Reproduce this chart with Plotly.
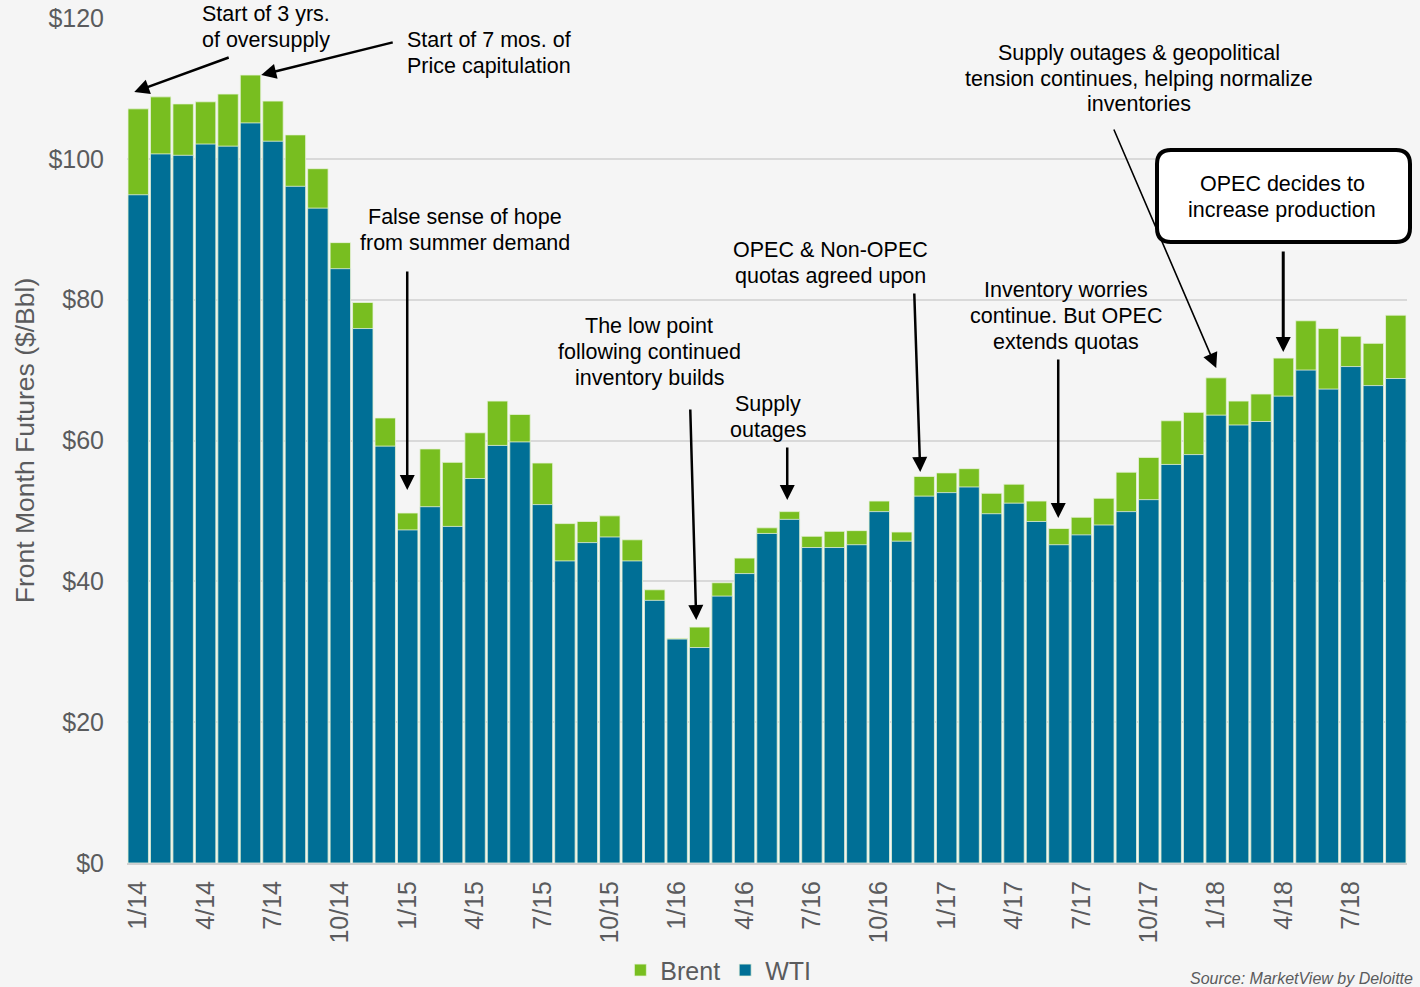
import plotly.graph_objects as go

months = ["1/14","2/14","3/14","4/14","5/14","6/14","7/14","8/14","9/14","10/14","11/14","12/14",
          "1/15","2/15","3/15","4/15","5/15","6/15","7/15","8/15","9/15","10/15","11/15","12/15",
          "1/16","2/16","3/16","4/16","5/16","6/16","7/16","8/16","9/16","10/16","11/16","12/16",
          "1/17","2/17","3/17","4/17","5/17","6/17","7/17","8/17","9/17","10/17","11/17","12/17",
          "1/18","2/18","3/18","4/18","5/18","6/18","7/18","8/18","9/18"]

brent = [107.1,108.8,107.8,108.1,109.2,111.9,108.2,103.4,98.6,88.1,79.6,63.2,
         49.7,58.8,56.9,61.1,65.6,63.7,56.8,48.2,48.5,49.3,45.9,38.8,
         31.9,33.5,39.8,43.3,47.6,49.9,46.4,47.1,47.2,51.4,47.0,54.9,
         55.4,56.0,52.5,53.8,51.4,47.5,49.1,51.8,55.5,57.6,62.8,64.0,
         68.9,65.6,66.6,71.7,77.0,75.9,74.8,73.8,77.8]

wti = [94.9,100.7,100.5,102.1,101.8,105.1,102.5,96.1,93.0,84.4,75.9,59.2,
       47.3,50.6,47.8,54.6,59.3,59.8,50.9,42.9,45.5,46.3,42.9,37.3,
       31.8,30.6,37.9,41.1,46.8,48.8,44.8,44.8,45.2,49.9,45.7,52.1,
       52.6,53.4,49.6,51.1,48.5,45.2,46.6,48.0,49.9,51.6,56.6,58.0,
       63.6,62.2,62.7,66.3,70.0,67.3,70.5,67.8,68.8]

tick_labels = ["1/14","4/14","7/14","10/14","1/15","4/15","7/15","10/15","1/16","4/16",
               "7/16","10/16","1/17","4/17","7/17","10/17","1/18","4/18","7/18"]
y_ticks = [0, 20, 40, 60, 80, 100, 120]
y_tick_labels = ["$0", "$20", "$40", "$60", "$80", "$100", "$120"]

GREEN = "#78BE20"
BLUE = "#006F96"
GREY = "#5a5b5d"
FONT = "Liberation Sans, Arial, sans-serif"

# layout helpers (plot area: x 127..1407 px, y 18..863 px)
def px_x(px):
    return (px - 137) / 22.456

def px_y(py):
    return (863 - py) / 7.0417

def paper_x(px):
    return (px - 127) / 1280

def paper_y(py):
    return (863 - py) / 845

fig = go.Figure()
fig.add_trace(go.Bar(x=months, y=brent, name="Brent",
                     marker=dict(color=GREEN, line=dict(color="#e8f2dc", width=0.8))))
fig.add_trace(go.Bar(x=months, y=wti, name="WTI",
                     marker=dict(color=BLUE, line=dict(color="#e8f2dc", width=0.8))))

ann_font = dict(family=FONT, size=21.5, color="black")
# (anchor x px, first-line y px, line spacing px, lines, anchor)
text_blocks = [
    (266, 14, 26, ["Start of 3 yrs.", "of oversupply"], "center"),
    (405, 40, 26, ["Start of 7 mos. of", "Price capitulation"], "left"),
    (465, 217, 25.5, ["False sense of hope", "from summer demand"], "center"),
    (649, 326, 26, ["The low point", "following continued", "inventory builds"], "center"),
    (768, 404, 26, ["Supply", "outages"], "center"),
    (830, 250, 26.5, ["OPEC & Non-OPEC", "quotas agreed upon"], "center"),
    (1066, 290, 26, ["Inventory worries", "continue. But OPEC", "extends quotas"], "center"),
    (1139, 53, 25.5, ["Supply outages & geopolitical", "tension continues, helping normalize", "inventories"], "center"),
    (1282, 184, 26, ["OPEC decides to", "increase production"], "center"),
]
annotations = []
for ax_px, y0_px, sp, lines, anc in text_blocks:
    for i, line in enumerate(lines):
        annotations.append(dict(x=paper_x(ax_px), y=paper_y(y0_px + i * sp), xref="paper", yref="paper",
                                text=line, showarrow=False, font=ann_font, xanchor=anc, yanchor="middle"))

# arrows: tip (x px, y px), tail (x px, y px), line width
arrows = [
    ((133, 92), (229, 57), 2.5),
    ((260, 75), (393, 42), 2.5),
    ((406, 490), (406, 270), 2.5),
    ((695, 620), (689, 408), 2.5),
    ((786, 500), (786, 446), 2.5),
    ((919, 472), (913, 292), 2.5),
    ((1057, 518), (1057, 358), 2.5),
    ((1215, 368), (1112, 128), 1.6),
    ((1282, 352), (1282, 250), 3.0),
]
for (tx, ty), (sx, sy), w in arrows:
    annotations.append(dict(x=px_x(tx), y=px_y(ty), xref="x", yref="y",
                            ax=px_x(sx), ay=px_y(sy), axref="x", ayref="y",
                            text="", showarrow=True, arrowhead=2, arrowwidth=w, arrowsize=3.0 / w,
                            arrowcolor="black", standoff=0))

annotations.append(dict(x=1.0, y=-0.137, xref="paper", yref="paper",
                        text="<i>Source: MarketView by Deloitte</i>",
                        showarrow=False, font=dict(family=FONT, size=16, color=GREY),
                        xanchor="right", yanchor="middle", xshift=8))

# rounded box around "OPEC decides..."
x0, x1 = paper_x(1157), paper_x(1410)
y0, y1 = paper_y(242), paper_y(150)
rx, ry = 14 / 1280, 14 / 845
path = (f"M{x0+rx},{y1} L{x1-rx},{y1} Q{x1},{y1} {x1},{y1-ry} L{x1},{y0+ry} Q{x1},{y0} {x1-rx},{y0} "
        f"L{x0+rx},{y0} Q{x0},{y0} {x0},{y0+ry} L{x0},{y1-ry} Q{x0},{y1} {x0+rx},{y1} Z")

fig.update_layout(
    width=1420, height=987,
    margin=dict(l=127, r=13, t=18, b=124, autoexpand=False),
    paper_bgcolor="#f5f5f5", plot_bgcolor="#f5f5f5",
    barmode="overlay", bargap=0.09,
    font=dict(family=FONT, color=GREY, size=25),
    showlegend=True,
    legend=dict(orientation="h", x=0.462, y=-0.127, xanchor="center", yanchor="middle",
                font=dict(size=25, color=GREY), bgcolor="rgba(0,0,0,0)", traceorder="normal",
                itemwidth=30),
    annotations=annotations,
    shapes=[dict(type="path", path=path, xref="paper", yref="paper", fillcolor="white",
                 line=dict(color="black", width=4), layer="above")],
)
fig.update_xaxes(type="category", tickmode="array", tickvals=tick_labels, ticktext=tick_labels,
                 tickangle=-90, tickfont=dict(size=25, color=GREY), showgrid=False,
                 showline=True, linecolor="#d0d0d0", linewidth=2, ticks="", ticklabelstandoff=6,
                 automargin=False, range=[-0.5, 56.5])
fig.update_yaxes(range=[0, 120], tickmode="array", tickvals=y_ticks, ticktext=y_tick_labels,
                 tickfont=dict(size=25, color=GREY), showgrid=True, gridcolor="#d9d9d9", gridwidth=2,
                 zeroline=False, ticks="", ticklabelstandoff=22, automargin=False,
                 title=dict(text="Front Month Futures ($/Bbl)", font=dict(size=26.5, color=GREY), standoff=6))

fig.write_html("out.html")
